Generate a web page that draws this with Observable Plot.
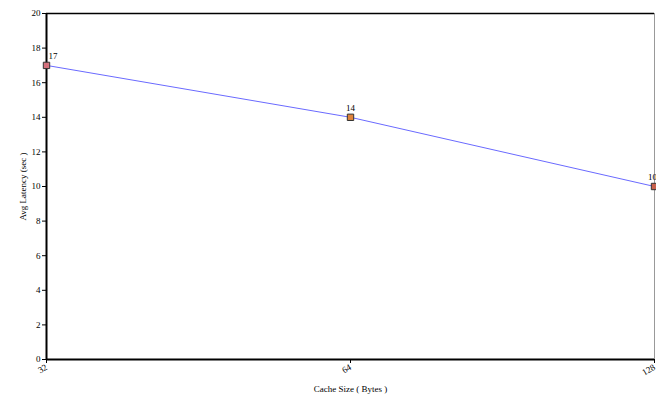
<!DOCTYPE html>
<html>
<head>
<meta charset="utf-8">
<script src="https://cdn.jsdelivr.net/npm/d3@7"></script>
<script src="https://cdn.jsdelivr.net/npm/@observablehq/plot@0.6"></script>
<style>
  html, body { margin: 0; padding: 0; background: #fff; }
  svg { display: block; }
  svg text { font-family: 'Liberation Serif', serif; }
</style>
</head>
<body>
<div id="chart"></div>
<script>
const cacheSizes = [32, 64, 128];
const avgLatency = [17, 14, 10];
const pointColors = ["#d4707c", "#e0843c", "#c8604c"];
const yTicks = [0, 2, 4, 6, 8, 10, 12, 14, 16, 18, 20];
const xLabel = "Cache Size ( Bytes )";
const yLabel = "Avg Latency (sec )";

const data = cacheSizes.map((s, i) => ({size: s, latency: avgLatency[i], color: pointColors[i], label: String(avgLatency[i])}));

const chart = Plot.plot({
  width: 656,
  height: 394,
  marginLeft: 46,
  marginRight: 2,
  marginTop: 13,
  marginBottom: 35,
  style: {fontFamily: "'Liberation Serif', serif", fontSize: "9px", background: "#fff", color: "#000"},
  x: {type: "log", base: 2, domain: [32, 128]},
  y: {domain: [0, 20]},
  marks: [
    Plot.ruleY([20], {stroke: "#000", strokeWidth: 1.5}),
    Plot.ruleX([128], {stroke: "#999", strokeWidth: 1}),
    Plot.axisY({ticks: yTicks, tickSize: 4, tickPadding: 2, tickFormat: d => d, label: yLabel, labelAnchor: "center", labelArrow: "none", labelOffset: 27, fontSize: 9}),
    Plot.axisX({ticks: cacheSizes, tickSize: 4, tickPadding: 3, tickRotate: -30, tickFormat: d => d, label: xLabel, labelAnchor: "center", labelArrow: "none", labelOffset: 32, fontSize: 9}),
    Plot.ruleX([32], {stroke: "#000", strokeWidth: 2}),
    Plot.ruleY([0], {stroke: "#000", strokeWidth: 2}),
    Plot.line(data, {x: "size", y: "latency", stroke: "#6a6aff", strokeWidth: 1}),
    Plot.dot(data, {x: "size", y: "latency", symbol: "square", r: 3.6, fill: d => d.color, stroke: "#333", strokeWidth: 1}),
    Plot.text(data.slice(0, 1), {x: "size", y: "latency", text: "label", dy: -9, dx: 2, textAnchor: "start", fontSize: 9}),
    Plot.text(data.slice(1, 2), {x: "size", y: "latency", text: "label", dy: -9, textAnchor: "middle", fontSize: 9}),
    Plot.text(data.slice(2), {x: "size", y: "latency", text: "label", dy: -9, dx: -2, textAnchor: "middle", fontSize: 9})
  ]
});
document.getElementById("chart").appendChild(chart);
</script>
</body>
</html>
